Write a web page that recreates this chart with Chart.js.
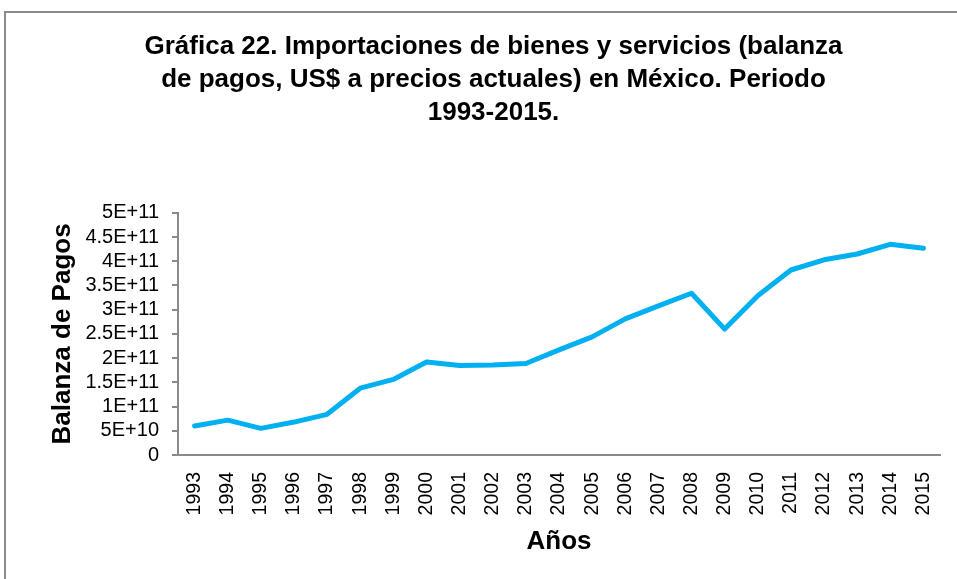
<!DOCTYPE html>
<html>
<head>
<meta charset="utf-8">
<script src="https://cdn.jsdelivr.net/npm/chart.js@4/dist/chart.umd.min.js"></script>
<style>
  html, body { margin: 0; padding: 0; background: #fff; }
  #wrap { position: relative; width: 957px; height: 579px; }
</style>
</head>
<body>
<div id="wrap"><canvas id="chart" width="957" height="579"></canvas></div>
<script>
const years = ["1993", "1994", "1995", "1996", "1997", "1998", "1999", "2000", "2001", "2002", "2003", "2004",
  "2005", "2006", "2007", "2008", "2009", "2010", "2011", "2012", "2013", "2014", "2015"];
const imports = [6.0e10, 7.2e10, 5.5e10, 6.8e10, 8.4e10, 1.38e11, 1.56e11, 1.92e11, 1.85e11, 1.86e11, 1.89e11, 2.17e11,
  2.44e11, 2.81e11, 3.08e11, 3.34e11, 2.60e11, 3.29e11, 3.82e11, 4.03e11, 4.15e11, 4.35e11, 4.27e11];
const yTickLabels = ["0", "5E+10", "1E+11", "1.5E+11", "2E+11", "2.5E+11", "3E+11", "3.5E+11", "4E+11", "4.5E+11", "5E+11"];
const titleLines = ["Gráfica 22. Importaciones de bienes y servicios (balanza",
  "de pagos, US$ a precios actuales) en México. Periodo", "1993-2015."];

const FONT = "'Liberation Sans', Arial, Helvetica, sans-serif";
const AXIS_GREY = "#8a8a8a";

// outer frame of the chart object (left and top edges are visible)
const framePlugin = {
  id: "frame",
  beforeDraw(chart) {
    const c = chart.ctx;
    c.save();
    c.strokeStyle = AXIS_GREY;
    c.lineWidth = 2;
    c.beginPath();
    c.moveTo(5, chart.height + 5);
    c.lineTo(5, 12);
    c.lineTo(chart.width + 5, 12);
    c.stroke();
    c.restore();
  }
};

new Chart(document.getElementById("chart"), {
  type: "line",
  data: {
    labels: years,
    datasets: [{
      label: "Importaciones",
      data: imports,
      borderColor: "#00b0f0",
      borderWidth: 5,
      pointRadius: 0,
      borderJoinStyle: "round",
      borderCapStyle: "round",
      tension: 0,
      fill: false
    }]
  },
  options: {
    responsive: false,
    animation: false,
    layout: { padding: { left: 47, right: 17, top: 0, bottom: 0 } },
    plugins: {
      legend: { display: false },
      tooltip: { enabled: false },
      title: {
        display: true,
        text: titleLines,
        color: "#000",
        font: { family: FONT, size: 26, weight: "bold", lineHeight: 1.28 },
        padding: { top: 30, bottom: 83 }
      }
    },
    scales: {
      x: {
        offset: true,
        grid: { display: false },
        border: { display: true, color: AXIS_GREY, width: 2 },
        ticks: {
          color: "#000",
          font: { family: FONT, size: 19.5 },
          minRotation: 90,
          maxRotation: 90,
          autoSkip: false,
          padding: 9
        },
        title: {
          display: true,
          text: "Años",
          color: "#000",
          font: { family: FONT, size: 26, weight: "bold" },
          padding: { top: 0, bottom: 22 }
        },
        afterFit(scale) { scale.height = 124; }
      },
      y: {
        min: 0,
        max: 5e11,
        grid: { display: true, drawOnChartArea: false, drawTicks: true, tickLength: 6, color: AXIS_GREY, lineWidth: 2 },
        border: { display: true, color: AXIS_GREY, width: 2 },
        ticks: {
          stepSize: 5e10,
          autoSkip: false,
          color: "#000",
          font: { family: FONT, size: 20 },
          padding: 13,
          callback: (v, i) => yTickLabels[i]
        },
        title: {
          display: true,
          text: "Balanza de Pagos",
          color: "#000",
          font: { family: FONT, size: 26, weight: "bold" },
          padding: { top: 0, bottom: 0 }
        },
        afterFit(scale) { scale.width = 131; }
      }
    }
  },
  plugins: [framePlugin]
});
</script>
</body>
</html>
